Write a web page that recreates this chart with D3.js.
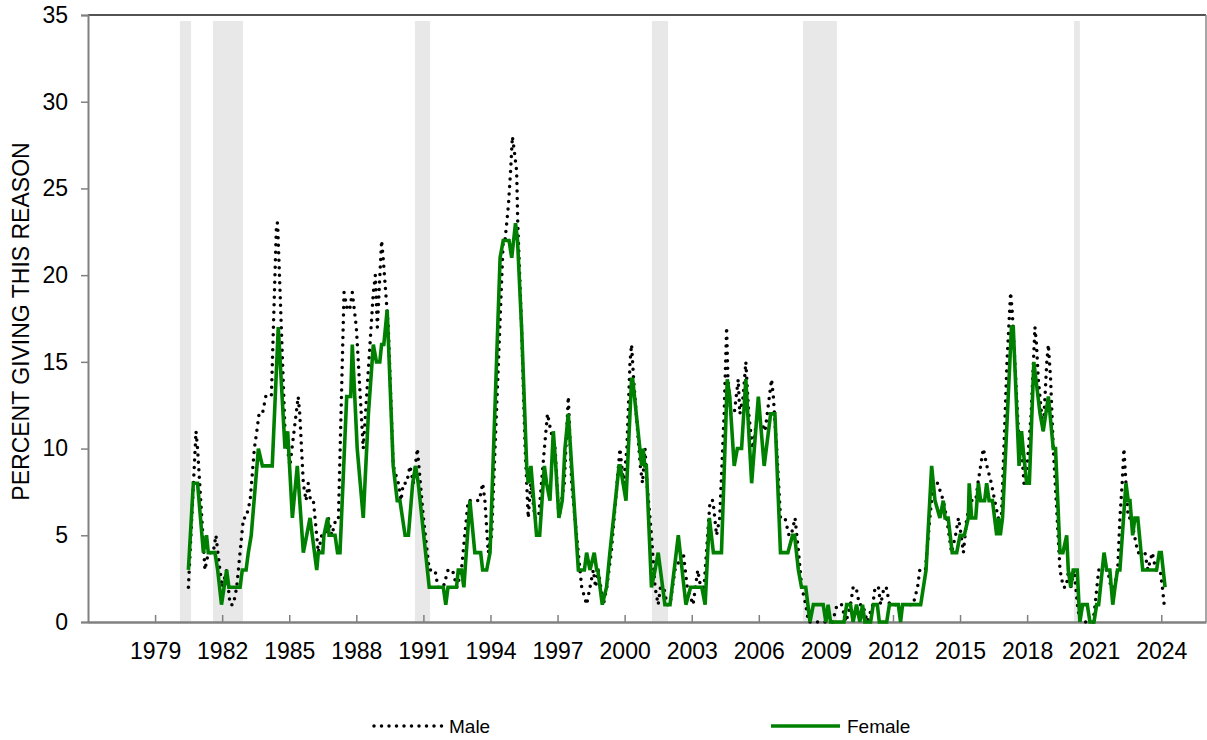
<!DOCTYPE html>
<html>
<head>
<meta charset="utf-8">
<script src="https://cdn.jsdelivr.net/npm/d3@7"></script>
<style>
  body { margin: 0; background: #fff; }
  svg { display: block; font-family: "Liberation Sans", Arial, sans-serif; }
</style>
</head>
<body>
<svg id="chart" width="1207" height="740"></svg>
<script>
// ---------------- data ----------------
const xTickYears = [1979, 1982, 1985, 1988, 1991, 1994, 1997, 2000, 2003, 2006, 2009, 2012, 2015, 2018, 2021, 2024];
const yTickValues = [0, 5, 10, 15, 20, 25, 30, 35];
const seriesNames = ["Male", "Female"];
const yAxisTitle = "PERCENT GIVING THIS REASON";

// recession periods [start, end] in decimal years
const recessions = [
  [1980.11, 1980.61], [1981.59, 1982.93], [1990.62, 1991.30],
  [2001.22, 2001.94], [2007.98, 2009.49], [2020.10, 2020.36]
];

// [decimal year, percent]
const maleData = [
  [1980.49,2],[1980.83,11],[1980.9,10],[1981.23,3],[1981.38,4],[1981.6,4],[1981.72,5],[1981.9,3],[1982.0,2],
  [1982.2,3],[1982.35,1],[1982.5,1],[1982.65,2],[1982.8,4],[1982.95,6],[1983.07,6],[1983.25,7],[1983.44,10],
  [1983.55,11],[1983.65,12],[1983.8,12],[1983.95,13],[1984.1,13],[1984.2,13],[1984.43,23],[1984.48,23],
  [1984.81,11],[1985.03,9],[1985.4,13],[1985.47,12],[1985.63,8],[1985.75,7],[1985.85,8],[1985.95,7],
  [1986.08,7],[1986.3,4],[1986.45,5],[1986.6,5],[1986.75,6],[1986.9,5],[1987.1,6],[1987.2,6],[1987.45,19],
  [1987.6,18],[1987.7,18],[1987.82,19],[1988.0,17],[1988.31,10],[1988.61,16],[1988.76,19],[1988.85,20],
  [1988.94,17],[1989.13,22],[1989.2,21],[1989.43,17],[1989.65,9],[1989.88,8],[1990.0,7],[1990.1,8],
  [1990.25,8],[1990.4,9],[1990.55,8],[1990.73,10],[1991.0,6],[1991.26,3],[1991.52,3],[1991.65,2],
  [1991.89,2],[1992.1,3],[1992.3,3],[1992.5,2],[1992.7,3],[1993.0,7],[1993.3,7],[1993.5,7],[1993.65,8],
  [1993.75,7],[1993.9,4],[1994.05,5],[1994.57,22],[1994.65,22],[1994.8,24],[1994.9,26],[1994.98,28],
  [1995.08,27],[1995.17,26],[1995.22,23],[1995.39,17],[1995.55,10],[1995.69,6],[1995.8,8],[1995.99,6],
  [1996.15,6],[1996.41,10],[1996.55,12],[1996.7,11],[1996.89,10],[1997.06,6],[1997.3,8],[1997.48,13],
  [1997.63,8],[1997.85,5],[1998.08,2],[1998.3,1],[1998.45,2],[1998.6,3],[1998.7,2],[1998.82,3],
  [1999.05,1],[1999.2,2],[1999.4,4],[1999.79,10],[1999.95,8],[2000.1,10],[2000.24,15],[2000.31,16],
  [2000.4,14],[2000.7,9],[2000.8,8],[2000.91,10],[2001.0,8],[2001.2,5],[2001.36,2],[2001.5,1],[2001.6,2],
  [2001.75,2],[2001.9,1],[2002.03,1],[2002.25,3],[2002.62,4],[2002.8,2],[2003.06,1],[2003.27,3],
  [2003.4,2],[2003.55,2],[2003.82,7],[2003.95,7],[2004.11,5],[2004.25,6],[2004.45,12],[2004.56,17],
  [2004.62,14],[2004.75,12],[2004.9,12],[2005.08,14],[2005.15,12],[2005.3,13],[2005.42,15],[2005.55,12],
  [2005.72,10],[2005.95,12],[2006.28,11],[2006.57,14],[2006.65,13],[2006.8,10],[2006.97,6],[2007.17,6],
  [2007.35,5],[2007.45,5],[2007.62,6],[2007.78,4],[2007.92,2],[2008.1,1],[2008.22,0],[2008.6,0],
  [2009.0,0],[2009.3,0],[2009.5,1],[2009.7,1],[2009.9,0],[2010.1,1],[2010.22,2],[2010.35,2],[2010.5,1],
  [2010.65,1],[2010.85,0],[2011.1,1],[2011.2,2],[2011.35,2],[2011.45,1],[2011.6,2],[2011.7,2],
  [2011.85,1],[2012.0,1],[2012.3,1],[2012.5,1],[2012.9,1],[2013.1,2],[2013.2,3],[2013.45,3],[2013.65,6],
  [2013.8,8],[2014.0,8],[2014.25,7],[2014.4,6],[2014.62,4],[2014.8,5],[2014.93,6],[2015.05,5],
  [2015.15,4],[2015.3,6],[2015.5,7],[2015.7,7],[2015.8,8],[2016.04,10],[2016.2,9],[2016.4,8],
  [2016.55,7],[2016.71,6],[2016.85,6],[2017.1,15],[2017.26,19],[2017.33,18],[2017.45,15],[2017.61,11],
  [2017.75,10],[2017.86,8],[2018.0,9],[2018.18,12],[2018.35,17],[2018.42,16],[2018.5,14],[2018.72,11],
  [2018.88,15],[2018.95,16],[2019.05,14],[2019.17,10],[2019.3,7],[2019.47,3],[2019.62,2],[2019.75,2],
  [2019.85,3],[2019.95,2],[2020.1,3],[2020.25,1],[2020.36,0],[2020.7,0],[2020.95,0],[2021.04,1],
  [2021.2,3],[2021.33,3],[2021.5,3],[2021.6,3],[2021.75,2],[2021.9,2],[2022.05,3],[2022.15,6],
  [2022.25,8],[2022.33,10],[2022.42,8],[2022.52,6],[2022.65,6],[2022.8,5],[2022.95,4],[2023.12,4],
  [2023.27,4],[2023.4,3],[2023.6,4],[2023.75,3],[2023.95,3],[2024.05,2],[2024.13,1]
];

const femaleData = [
  [1980.49,3],[1980.71,8],[1980.9,8],[1981.16,4],[1981.3,5],[1981.38,4],[1981.68,4],[1981.8,3],[1981.97,1],
  [1982.2,3],[1982.3,2],[1982.8,2],[1982.9,3],[1983.07,3],[1983.17,4],[1983.3,5],[1983.62,10],[1983.8,9],
  [1984.24,9],[1984.51,17],[1984.81,10],[1984.93,11],[1985.14,6],[1985.36,9],[1985.63,4],[1985.78,5],
  [1985.93,6],[1986.23,3],[1986.3,4],[1986.5,4],[1986.55,5],[1986.72,6],[1986.78,5],[1987.05,5],
  [1987.16,4],[1987.27,4],[1987.57,13],[1987.75,13],[1987.82,16],[1988.04,10],[1988.31,6],[1988.54,12],
  [1988.76,16],[1988.9,15],[1989.05,15],[1989.13,16],[1989.23,16],[1989.38,18],[1989.65,9],[1989.83,7],
  [1989.95,7],[1990.18,5],[1990.33,5],[1990.52,8],[1990.65,9],[1990.77,8],[1991.26,2],[1991.89,2],
  [1992.0,1],[1992.1,2],[1992.48,2],[1992.56,3],[1992.7,3],[1992.81,2],[1993.08,7],[1993.3,4],
  [1993.56,4],[1993.65,3],[1993.83,3],[1993.98,4],[1994.43,21],[1994.57,22],[1994.83,22],[1994.95,21],
  [1995.12,23],[1995.21,22],[1995.39,17],[1995.62,9],[1995.69,8],[1995.81,9],[1996.06,5],[1996.2,5],
  [1996.41,9],[1996.51,8],[1996.66,7],[1996.81,11],[1996.92,9],[1997.06,6],[1997.21,7],[1997.33,10],
  [1997.48,12],[1997.93,3],[1998.2,3],[1998.3,4],[1998.45,3],[1998.64,4],[1998.75,3],[1998.8,3],
  [1999.0,1],[1999.19,2],[1999.34,4],[1999.75,9],[1999.8,9],[2000.06,7],[2000.31,14],[2000.36,14],
  [2000.76,9],[2000.83,10],[2000.9,9],[2000.97,9],[2001.2,2],[2001.36,3],[2001.5,4],[2001.6,3],
  [2001.8,1],[2002.03,1],[2002.4,5],[2002.74,1],[2002.95,2],[2003.45,2],[2003.6,1],[2003.79,6],
  [2003.97,4],[2004.33,4],[2004.59,14],[2004.7,13],[2004.9,9],[2005.04,10],[2005.23,10],[2005.42,14],
  [2005.68,8],[2005.98,13],[2006.24,9],[2006.53,12],[2006.72,12],[2006.97,4],[2007.3,4],[2007.51,5],
  [2007.6,5],[2007.77,3],[2007.91,2],[2008.1,2],[2008.29,0],[2008.44,1],[2008.88,1],[2009.0,0],
  [2009.1,1],[2009.21,0],[2009.81,0],[2009.93,1],[2010.1,1],[2010.22,0],[2010.37,1],[2010.52,0],
  [2010.64,1],[2010.74,0],[2011.0,0],[2011.12,1],[2011.3,1],[2011.39,0],[2011.72,0],[2011.84,1],
  [2012.24,1],[2012.34,0],[2012.43,1],[2013.24,1],[2013.48,3],[2013.73,9],[2013.88,7],[2014.1,6],
  [2014.25,7],[2014.33,6],[2014.47,6],[2014.65,4],[2014.85,4],[2015.0,5],[2015.19,5],[2015.37,6],
  [2015.41,8],[2015.52,6],[2015.7,6],[2015.82,8],[2015.92,7],[2016.1,7],[2016.19,8],[2016.3,7],
  [2016.45,7],[2016.64,5],[2016.72,6],[2016.8,5],[2016.9,6],[2017.3,17],[2017.38,17],[2017.64,9],
  [2017.75,11],[2017.82,10],[2017.98,8],[2018.1,8],[2018.3,15],[2018.58,12],[2018.72,11],[2018.95,13],
  [2019.17,10],[2019.27,10],[2019.47,4],[2019.6,4],[2019.77,5],[2019.84,3],[2019.95,2],[2020.06,3],
  [2020.24,3],[2020.36,0],[2020.48,1],[2020.69,1],[2020.81,0],[2020.99,0],[2021.11,1],[2021.2,1],
  [2021.44,4],[2021.56,3],[2021.7,3],[2021.83,1],[2021.93,2],[2022.04,3],[2022.15,3],[2022.42,8],
  [2022.52,7],[2022.6,7],[2022.72,5],[2022.82,6],[2022.95,6],[2023.17,3],[2023.79,3],[2023.91,4],
  [2024.0,4],[2024.17,2]
];

// ---------------- chart ----------------
(function () {
const svg = d3.select("#chart");
const pLeft = 88, pRight = 1206, pTop = 15, pBottom = 622, bandTop = 21;

const x = d3.scaleLinear().domain([1976, 2026]).range([pLeft, pRight]);
const y = d3.scaleLinear().domain([0, 35]).range([pBottom, pTop]);

// recession bands
svg.append("g").selectAll("rect").data(recessions).join("rect")
  .attr("x", d => x(d[0]))
  .attr("width", d => x(d[1]) - x(d[0]))
  .attr("y", bandTop)
  .attr("height", pBottom - bandTop)
  .attr("fill", "#e8e8e8");

// frame: top (black) and right (grey)
svg.append("line").attr("x1", pLeft).attr("x2", pRight).attr("y1", pTop).attr("y2", pTop)
  .attr("stroke", "#1a1a1a").attr("stroke-width", 1.6);
svg.append("line").attr("x1", pRight).attr("x2", pRight).attr("y1", pTop).attr("y2", pBottom)
  .attr("stroke", "#888").attr("stroke-width", 1.5);

// y axis
const yAxis = svg.append("g").attr("transform", `translate(${pLeft},0)`)
  .call(d3.axisLeft(y).tickValues(yTickValues).tickSize(7).tickPadding(13).tickFormat(d3.format("d")));
yAxis.select(".domain").attr("stroke", "#808080").attr("stroke-width", 2);
yAxis.selectAll(".tick line").attr("stroke", "#808080").attr("stroke-width", 1.5);
yAxis.selectAll("text").attr("font-size", 23).attr("fill", "#000")
  .attr("font-family", "'Liberation Sans', Arial, sans-serif");

// x axis (ticks inside)
const xAxis = svg.append("g").attr("transform", `translate(0,${pBottom})`)
  .call(d3.axisBottom(x).tickValues(xTickYears).tickSizeInner(-7).tickSizeOuter(0).tickPadding(21).tickFormat(d3.format("d")));
xAxis.select(".domain").attr("stroke", "#808080").attr("stroke-width", 2.5);
xAxis.selectAll(".tick line").attr("stroke", "#808080").attr("stroke-width", 1.5);
xAxis.selectAll("text").attr("font-size", 23).attr("fill", "#000")
  .attr("font-family", "'Liberation Sans', Arial, sans-serif");

// y axis title
svg.append("text")
  .attr("transform", `translate(29,${(pTop + pBottom) / 2 + 3}) rotate(-90)`)
  .attr("text-anchor", "middle")
  .attr("font-size", 23)
  .attr("fill", "#000")
  .text(yAxisTitle);

// lines
const line = d3.line().x(d => x(d[0])).y(d => y(d[1]));

const maleStyle = { stroke: "#000", width: 3.5, dash: "0 7.5", cap: "round" };
const femaleStyle = { stroke: "#008000", width: 3.6, dash: null, cap: "butt" };

svg.append("path").datum(maleData)
  .attr("d", line).attr("fill", "none")
  .attr("stroke", maleStyle.stroke).attr("stroke-width", maleStyle.width)
  .attr("stroke-dasharray", maleStyle.dash).attr("stroke-linecap", maleStyle.cap);

svg.append("path").datum(femaleData)
  .attr("d", line).attr("fill", "none")
  .attr("stroke", femaleStyle.stroke).attr("stroke-width", femaleStyle.width)
  .attr("stroke-linejoin", "miter");

// legend
const legendY = 726;
const legendItems = [
  { name: seriesNames[0], x0: 374, x1: 442, style: maleStyle },
  { name: seriesNames[1], x0: 771, x1: 840, style: femaleStyle }
];
const lg = svg.append("g");
legendItems.forEach(it => {
  lg.append("line")
    .attr("x1", it.x0).attr("x2", it.x1).attr("y1", legendY).attr("y2", legendY)
    .attr("stroke", it.style.stroke).attr("stroke-width", it.style.width)
    .attr("stroke-dasharray", it.style.dash).attr("stroke-linecap", it.style.cap);
  lg.append("text")
    .attr("x", it.x1 + 7).attr("y", legendY).attr("dy", "0.35em")
    .attr("font-size", 19).attr("fill", "#000")
    .text(it.name);
});
})();
</script>
</body>
</html>
